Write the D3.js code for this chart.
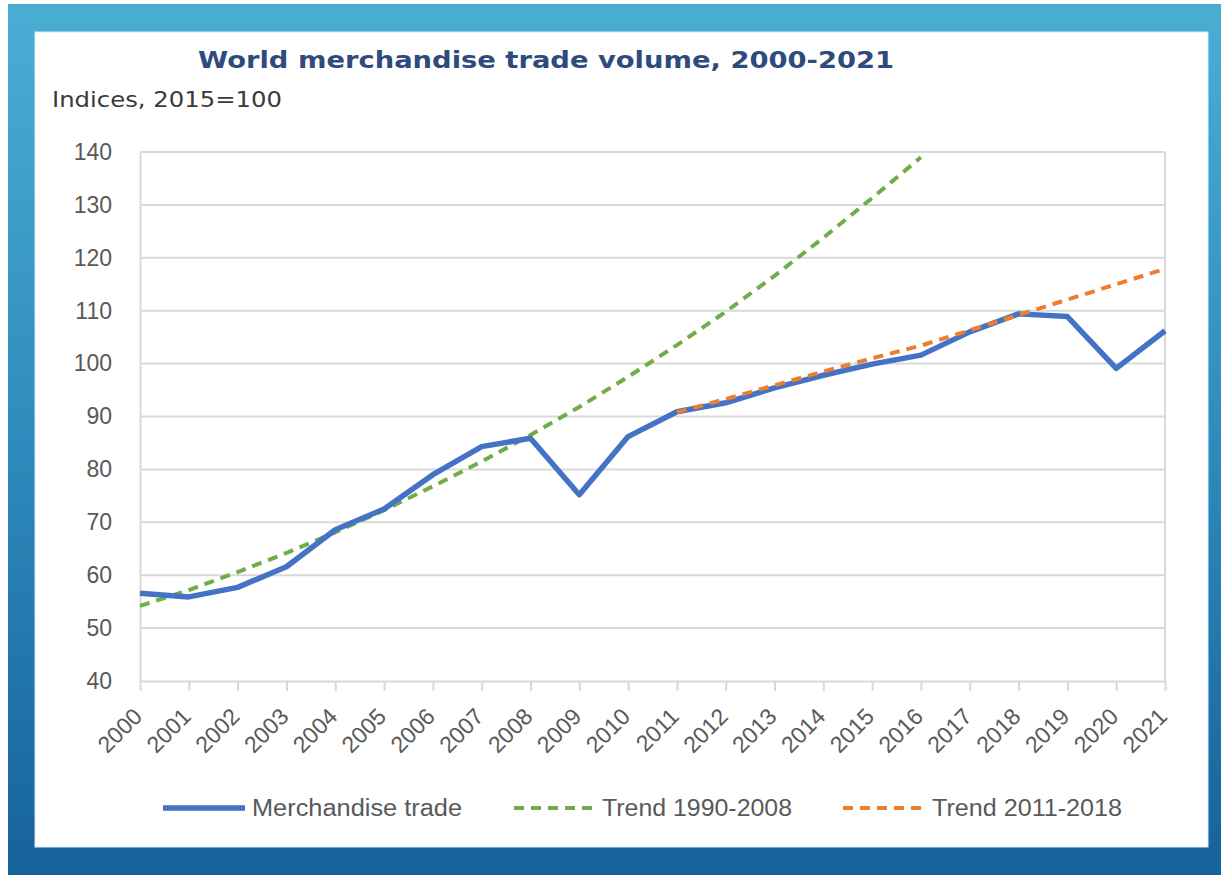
<!DOCTYPE html>
<html>
<head>
<meta charset="utf-8">
<script src="https://cdn.jsdelivr.net/npm/d3@7"></script>
<style>
  html, body { margin: 0; padding: 0; background: #fff; }
</style>
</head>
<body>
<svg width="1221" height="875"></svg>
<script>
// ************** Data *****************

const years = ["2000","2001","2002","2003","2004","2005","2006","2007","2008","2009","2010",
               "2011","2012","2013","2014","2015","2016","2017","2018","2019","2020","2021"];

// merchandise trade volume index (2015=100)
const tradeValues = [56.6, 55.9, 57.7, 61.6, 68.6, 72.5, 79.0, 84.3, 85.9, 75.2, 86.2,
                     90.9, 92.6, 95.4, 97.8, 99.9, 101.6, 106.0, 109.4, 108.9, 99.1, 106.2];

// trend 1990-2008, drawn 2000-2016
const trend1Years = years.slice(0, 17);
const trend1Values = [54.2, 57.2, 60.6, 64.2, 68.1, 72.3, 76.8, 81.5, 86.5, 91.8, 97.5,
                      103.5, 109.8, 116.6, 123.8, 131.3, 139.0];

// trend 2011-2018, drawn 2011-2021
const trend2Years = years.slice(11);
const trend2Values = [90.8, 93.3, 95.9, 98.5, 101.0, 103.4, 106.3, 109.2, 112.1, 115.0, 117.9];

const yTicks = [40, 50, 60, 70, 80, 90, 100, 110, 120, 130, 140];

const titleText = "World merchandise trade volume, 2000-2021";
const subtitleText = "Indices, 2015=100";
const legendLabels = ["Merchandise trade", "Trend 1990-2008", "Trend 2011-2018"];


// *************** Setup *****************

let svg = d3.select("svg");

const plotLeft = 140, plotRight = 1165, plotTop = 152, plotBottom = 681;
const tickFont = "'Liberation Sans', Arial, sans-serif";
const grey = "#595959";

// blue gradient frame
let defs = svg.append("defs");
let grad = defs.append("linearGradient")
    .attr("id", "frame").attr("x1", 0).attr("y1", 0).attr("x2", 0).attr("y2", 1);
grad.append("stop").attr("offset", "0%").attr("stop-color", "#4aaed3");
grad.append("stop").attr("offset", "50%").attr("stop-color", "#2f8bbd");
grad.append("stop").attr("offset", "100%").attr("stop-color", "#16629a");

svg.append("rect").attr("x", 8).attr("y", 4).attr("width", 1213).attr("height", 871)
    .attr("fill", "url(#frame)");
svg.append("rect").attr("x", 35).attr("y", 32).attr("width", 1173).attr("height", 815)
    .attr("fill", "#ffffff").attr("stroke", "#d6ecf5").attr("stroke-width", 1);

let xScale = d3.scalePoint()
    .domain(years)
    .range([plotLeft, plotRight]);

let yScale = d3.scaleLinear()
    .domain([40, 140])
    .range([plotBottom, plotTop]);

// gridlines
svg.append("g")
    .selectAll("line")
    .data(yTicks.slice(1))
    .enter().append("line")
    .attr("x1", plotLeft).attr("x2", plotRight)
    .attr("y1", d => yScale(d)).attr("y2", d => yScale(d))
    .attr("stroke", "#d9d9d9").attr("stroke-width", 2);

// plot area border (right side)
svg.append("line")
    .attr("x1", plotRight).attr("x2", plotRight).attr("y1", plotTop).attr("y2", plotBottom)
    .attr("stroke", "#d9d9d9").attr("stroke-width", 2);

// y axis
let yAxis = svg.append("g")
    .attr("transform", "translate(" + plotLeft + ",0)")
    .call(d3.axisLeft(yScale).tickValues(yTicks).tickSize(0).tickPadding(28));
yAxis.select(".domain").attr("stroke", "#d9d9d9").attr("stroke-width", 2);
yAxis.selectAll("text")
    .attr("font-family", tickFont).attr("font-size", 23).attr("fill", grey);

// x axis
let xAxis = svg.append("g")
    .attr("transform", "translate(0," + plotBottom + ")")
    .call(d3.axisBottom(xScale).tickSize(10).tickSizeOuter(0));
xAxis.select(".domain").attr("stroke", "#d9d9d9").attr("stroke-width", 2);
xAxis.selectAll(".tick line").attr("stroke", "#d9d9d9").attr("stroke-width", 2);
xAxis.selectAll("text")
    .attr("font-family", tickFont).attr("font-size", 23).attr("fill", grey)
    .attr("text-anchor", "end")
    .attr("y", 0).attr("dy", 0)
    .attr("transform", "translate(3,37) rotate(-45)");


// *************** Lines *****************

let line = d3.line()
    .x(d => xScale(d[0]))
    .y(d => yScale(d[1]));

svg.append("path")
    .datum(d3.zip(trend1Years, trend1Values))
    .attr("d", line)
    .attr("fill", "none").attr("stroke", "#70ad47")
    .attr("stroke-width", 4).attr("stroke-dasharray", "10,7");

svg.append("path")
    .datum(d3.zip(years, tradeValues))
    .attr("d", line)
    .attr("fill", "none").attr("stroke", "#4472c4")
    .attr("stroke-width", 5.5).attr("stroke-linejoin", "round");

svg.append("path")
    .datum(d3.zip(trend2Years, trend2Values))
    .attr("d", line)
    .attr("fill", "none").attr("stroke", "#ed7d31")
    .attr("stroke-width", 4).attr("stroke-dasharray", "10,7");


// *************** Titles *****************

svg.append("text")
    .attr("x", 198).attr("y", 68)
    .attr("textLength", 696).attr("lengthAdjust", "spacingAndGlyphs")
    .attr("font-family", "'DejaVu Sans', Verdana, sans-serif")
    .attr("font-weight", "bold").attr("font-size", 23)
    .attr("fill", "#2e4b7e")
    .text(titleText);

svg.append("text")
    .attr("x", 52).attr("y", 107)
    .attr("textLength", 230).attr("lengthAdjust", "spacingAndGlyphs")
    .attr("font-family", "'DejaVu Sans', Verdana, sans-serif")
    .attr("font-size", 21)
    .attr("fill", "#3a3a3a")
    .text(subtitleText);


// *************** Legend *****************

const legendY = 808;
const legendItems = [
    {x: 163, tx: 252, tw: 210, color: "#4472c4", width: 5.5, dash: null},
    {x: 514, tx: 602, tw: 190, color: "#70ad47", width: 4, dash: "10,7"},
    {x: 843, tx: 932, tw: 190, color: "#ed7d31", width: 4, dash: "10,7"}
];

let legend = svg.append("g");
legend.selectAll("line")
    .data(legendItems)
    .enter().append("line")
    .attr("x1", d => d.x).attr("x2", d => d.x + 82)
    .attr("y1", legendY).attr("y2", legendY)
    .attr("stroke", d => d.color).attr("stroke-width", d => d.width)
    .attr("stroke-dasharray", d => d.dash);

legend.selectAll("text")
    .data(legendItems)
    .enter().append("text")
    .attr("x", d => d.tx).attr("y", legendY + 8)
    .attr("textLength", d => d.tw).attr("lengthAdjust", "spacingAndGlyphs")
    .attr("font-family", tickFont).attr("font-size", 23).attr("fill", grey)
    .text((d, i) => legendLabels[i]);
</script>
</body>
</html>
